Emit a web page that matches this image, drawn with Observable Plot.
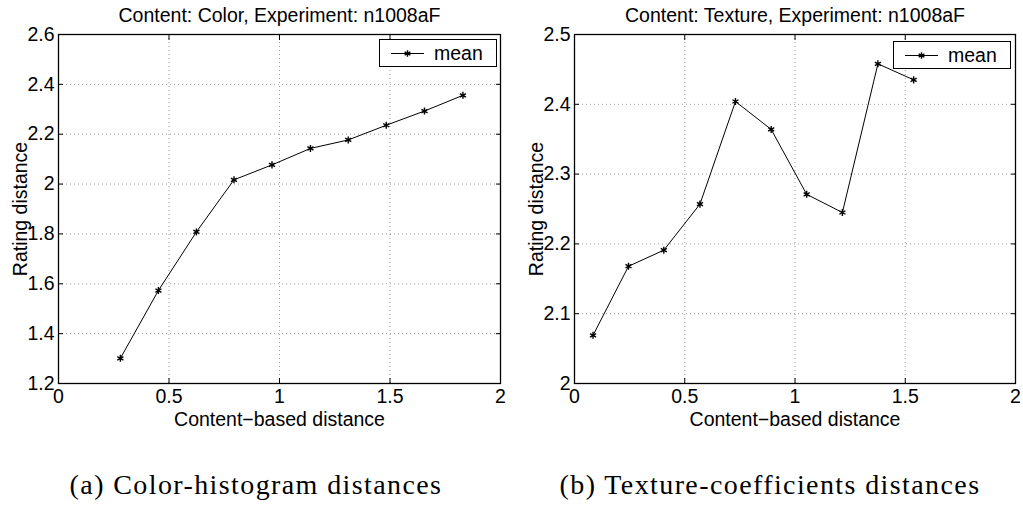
<!DOCTYPE html>
<html>
<head>
<meta charset="utf-8">
<script src="https://cdn.jsdelivr.net/npm/d3@7"></script>
<script src="https://cdn.jsdelivr.net/npm/@observablehq/plot@0.6"></script>
<style>
  html, body { margin: 0; padding: 0; background: white; }
  #root { position: relative; width: 1023px; height: 506px; overflow: hidden; font-family: "Liberation Sans", Arial, sans-serif; }
  .panel { position: absolute; top: 0; }
  .legend { position: absolute; box-sizing: border-box; border: 1.3px solid black; background: white; height: 28px; width: 118px; }
  .legend svg { position: absolute; left: 0; top: 0; }
  .legend span { position: absolute; left: 54px; top: 1px; font-size: 19.5px; line-height: 24px; color: black; }
  .caption { position: absolute; top: 468px; font-family: "Liberation Serif", "DejaVu Serif", serif; font-size: 28px; letter-spacing: 1.4px; line-height: 34px; color: black; text-align: center; white-space: nowrap; }
</style>
</head>
<body>
<div id="root"></div>
<script>
// ---- data ----
const colorX = [0.28, 0.452, 0.624, 0.794, 0.966, 1.14, 1.311, 1.483, 1.656, 1.83];
const colorY = [1.301, 1.573, 1.808, 2.017, 2.077, 2.143, 2.177, 2.236, 2.293, 2.356];
const textureX = [0.084, 0.245, 0.405, 0.569, 0.730, 0.892, 1.053, 1.215, 1.376, 1.538];
const textureY = [2.069, 2.168, 2.191, 2.257, 2.404, 2.364, 2.271, 2.245, 2.458, 2.435];
const xTicks = [0, 0.5, 1, 1.5, 2];
const colorYTicks = [1.2, 1.4, 1.6, 1.8, 2, 2.2, 2.4, 2.6];
const textureYTicks = [2, 2.1, 2.2, 2.3, 2.4, 2.5];
const titles = ["Content: Color, Experiment: n1008aF", "Content: Texture, Experiment: n1008aF"];
const xLabel = "Content\u2212based distance";
const yLabel = "Rating distance";
const seriesName = "mean";
const captions = ["(a) Color-histogram distances", "(b) Texture-coefficients distances"];

const fmt = d3.format("~g");
const H = 440, MT = 34, MB = H - 383;
const FS = 19.5;

function panel({xs, ys, yDomain, yTicks, title, width, marginLeft, marginRight}) {
  const data = xs.map((x, i) => ({x, y: ys[i]}));
  const grid = {stroke: "#666", strokeOpacity: 0.8, strokeWidth: 0.8, strokeDasharray: "1,3"};
  return Plot.plot({
    width, height: H,
    marginLeft, marginRight, marginTop: MT, marginBottom: MB,
    x: {domain: [0, 2]},
    y: {domain: yDomain},
    style: {fontFamily: "'Liberation Sans', Arial, sans-serif", fontSize: FS + "px", color: "black", background: "white", overflow: "visible"},
    marks: [
      Plot.gridX(xTicks, grid),
      Plot.gridY(yTicks, grid),
      // inward ticks on all four sides
      Plot.axisX(xTicks, {anchor: "bottom", tickSize: -5, text: null, label: null}),
      Plot.axisX(xTicks, {anchor: "top", tickSize: -5, text: null, label: null}),
      Plot.axisY(yTicks, {anchor: "left", tickSize: -5, text: null, label: null}),
      Plot.axisY(yTicks, {anchor: "right", tickSize: -5, text: null, label: null}),
      // labels
      Plot.axisX(xTicks, {anchor: "bottom", tickSize: 0, tickPadding: 6, tickFormat: fmt, fontSize: FS,
        label: xLabel, labelAnchor: "center", labelOffset: 42, labelArrow: "none"}),
      Plot.axisY(yTicks, {anchor: "left", tickSize: 0, tickPadding: 4, tickFormat: fmt, fontSize: FS,
        label: yLabel, labelAnchor: "center", labelOffset: 45, labelArrow: "none"}),
      Plot.frame({stroke: "black", strokeWidth: 1.3}),
      Plot.line(data, {x: "x", y: "y", stroke: "black", strokeWidth: 1}),
      Plot.dot(data, {x: "x", y: "y", symbol: "asterisk", r: 3.3, stroke: "black", strokeWidth: 1.4}),
      Plot.text([title], {frameAnchor: "top", dy: -13, lineAnchor: "bottom", fontSize: FS, fill: "black"})
    ]
  });
}

const root = document.getElementById("root");
const panels = [
  {xs: colorX, ys: colorY, yDomain: [1.2, 2.6], yTicks: colorYTicks, title: titles[0], left: 0, width: 512, marginLeft: 58, marginRight: 12,
   legend: {left: 379, top: 39}, caption: {center: 256}},
  {xs: textureX, ys: textureY, yDomain: [2, 2.5], yTicks: textureYTicks, title: titles[1], left: 512, width: 511, marginLeft: 62, marginRight: 8,
   legend: {left: 893, top: 41}, caption: {center: 770}}
];

panels.forEach((p, i) => {
  const div = document.createElement("div");
  div.className = "panel";
  div.style.left = p.left + "px";
  div.appendChild(panel(p));
  root.appendChild(div);

  // legend box
  const lg = document.createElement("div");
  lg.className = "legend";
  lg.style.left = p.legend.left + "px";
  lg.style.top = p.legend.top + "px";
  const svg = d3.create("svg").attr("width", 50).attr("height", 26);
  svg.append("line").attr("x1", 11).attr("x2", 44).attr("y1", 13.5).attr("y2", 13.5).attr("stroke", "black").attr("stroke-width", 1);
  svg.append("path").attr("d", d3.symbol(d3.symbolAsterisk, 30)()).attr("transform", "translate(27.5,13.5)")
    .attr("stroke", "black").attr("stroke-width", 1.4).attr("fill", "none");
  lg.appendChild(svg.node());
  const sp = document.createElement("span");
  sp.textContent = seriesName;
  lg.appendChild(sp);
  root.appendChild(lg);

  // caption
  const cap = document.createElement("div");
  cap.className = "caption";
  cap.textContent = captions[i];
  cap.style.left = (p.caption.center - 250) + "px";
  cap.style.width = "500px";
  root.appendChild(cap);
});
</script>
</body>
</html>
